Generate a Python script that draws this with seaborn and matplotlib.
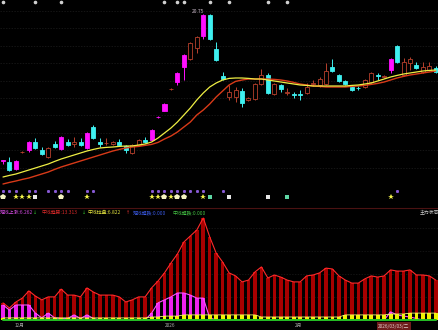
import numpy as np
import matplotlib
matplotlib.use("Agg")
import matplotlib.pyplot as plt
from matplotlib.lines import Line2D
import seaborn as sns

# ---------------- data ----------------
opens = [13.42, 13.35, 13.00, 13.83, 13.95, 14.35, 13.95, 13.60, 14.25, 14.00,
         14.35, 14.25, 14.35, 14.05, 15.10, 14.35, 14.28, 14.23, 14.35, 14.15,
         13.80, 14.20, 14.45, 14.45, 15.58, 15.90, 16.98, 17.35, 18.10, 18.50,
         19.05, 19.65, 20.72, 19.00, 17.65, 16.60, 16.60, 16.90, 16.45, 16.50,
         17.25, 17.70, 16.75, 17.20, 16.78, 16.75, 16.75, 16.80, 17.25, 17.20,
         17.25, 18.10, 17.70, 17.40, 17.10, 17.05, 17.10, 17.35, 17.68, 17.60,
         17.95, 19.15, 17.70, 18.30, 18.20, 17.85, 17.95, 18.05]
highs = [13.46, 13.60, 13.45, 13.88, 14.40, 14.55, 14.10, 14.10, 14.40, 14.65,
         14.50, 14.60, 14.55, 14.85, 15.20, 14.55, 14.55, 14.40, 14.50, 14.20,
         14.25, 14.50, 14.60, 15.00, 15.63, 16.28, 17.03, 17.85, 18.75, 19.35,
         19.65, 20.75, 20.75, 19.35, 17.85, 17.20, 17.10, 17.05, 16.60, 17.30,
         18.00, 17.80, 17.30, 17.25, 17.05, 16.85, 16.95, 17.30, 17.45, 17.60,
         18.30, 18.50, 17.75, 17.45, 17.15, 17.15, 17.50, 17.85, 17.80, 17.70,
         18.55, 19.20, 18.55, 18.60, 18.35, 18.35, 18.35, 18.15]
lows = [13.25, 12.90, 12.95, 13.82, 13.85, 14.00, 13.70, 13.55, 14.05, 13.95,
        14.15, 14.10, 14.15, 14.00, 14.50, 14.10, 14.20, 14.20, 14.15, 13.80,
        13.75, 14.15, 14.30, 14.40, 15.55, 15.88, 16.96, 17.20, 17.45, 18.45,
        18.80, 19.50, 19.45, 18.40, 17.45, 16.45, 16.35, 16.10, 16.40, 16.45,
        17.20, 16.75, 16.70, 16.85, 16.70, 16.55, 16.45, 16.75, 17.15, 17.10,
        17.20, 17.85, 17.35, 17.20, 16.90, 16.95, 17.05, 17.30, 17.45, 17.55,
        17.80, 18.30, 17.65, 17.95, 18.00, 17.80, 17.90, 17.80]
closes = [13.45, 12.95, 13.40, 13.86, 14.35, 14.05, 13.73, 14.05, 14.10, 14.60,
          14.20, 14.35, 14.20, 14.80, 14.55, 14.23, 14.30, 14.35, 14.20, 13.95,
          14.20, 14.45, 14.35, 14.95, 15.60, 16.25, 17.00, 17.80, 18.70, 19.30,
          19.60, 20.70, 19.50, 18.45, 17.48, 16.85, 16.95, 16.30, 16.55, 17.25,
          17.70, 16.80, 17.25, 17.00, 16.85, 16.68, 16.69, 17.10, 17.30, 17.50,
          17.90, 17.90, 17.40, 17.23, 16.95, 17.03, 17.45, 17.80, 17.63, 17.65,
          18.50, 18.35, 18.35, 18.50, 18.05, 18.10, 18.15, 17.85]
highlight_idx = [0, 2, 4, 9, 13, 23, 24, 25, 27, 28, 31, 60]

ma_short = [12.60, 12.68, 12.75, 12.85, 12.95, 13.05, 13.15, 13.25, 13.38, 13.50,
            13.60, 13.70, 13.80, 13.90, 13.98, 14.05, 14.08, 14.10, 14.13, 14.15,
            14.15, 14.20, 14.25, 14.35, 14.55, 14.80, 15.05, 15.35, 15.70, 16.05,
            16.45, 16.80, 17.10, 17.30, 17.45, 17.53, 17.55, 17.55, 17.53, 17.50,
            17.50, 17.45, 17.40, 17.35, 17.30, 17.25, 17.20, 17.18, 17.15, 17.15,
            17.15, 17.15, 17.15, 17.15, 17.18, 17.20, 17.25, 17.30, 17.40, 17.50,
            17.60, 17.68, 17.75, 17.80, 17.85, 17.90, 17.93, 17.95]
ma_long = [12.25, 12.33, 12.40, 12.48, 12.55, 12.65, 12.75, 12.85, 12.98, 13.10,
           13.20, 13.30, 13.40, 13.50, 13.60, 13.70, 13.80, 13.90, 13.98, 14.05,
           14.10, 14.13, 14.18, 14.23, 14.33, 14.50, 14.65, 14.85, 15.10, 15.35,
           15.70, 15.95, 16.25, 16.60, 16.90, 17.20, 17.38, 17.45, 17.50, 17.50,
           17.50, 17.50, 17.48, 17.45, 17.40, 17.33, 17.25, 17.20, 17.15, 17.13,
           17.10, 17.10, 17.10, 17.10, 17.13, 17.15, 17.18, 17.23, 17.28, 17.35,
           17.45, 17.55, 17.63, 17.70, 17.75, 17.80, 17.85, 17.90]

trend_mid = [5.7, 4.0, 6.0, 7.3, 9.7, 8.0, 6.7, 7.7, 7.7, 10.3,
             8.3, 8.3, 7.7, 10.7, 9.3, 8.3, 8.3, 8.3, 7.7, 6.0,
             6.7, 7.7, 7.7, 10.7, 13.0, 15.7, 19.0, 22.0, 26.0, 28.0,
             30.0, 34.0, 27.7, 22.3, 19.3, 15.7, 14.7, 12.7, 13.3, 16.0,
             17.7, 14.0, 15.0, 14.3, 13.3, 12.7, 12.7, 14.7, 15.0, 15.7,
             17.3, 17.0, 14.7, 13.3, 12.3, 12.3, 13.7, 14.7, 14.3, 14.7,
             16.7, 16.3, 16.3, 16.7, 15.0, 15.0, 14.7, 13.3]
rise_short = [5.0, 3.3, 5.0, 5.0, 5.0, 2.3, 0.7, 2.3, 0.7, 0.5,
              0.5, 1.7, 0.5, 1.7, 0.5, 0.0, 0.0, 0.0, 0.0, 0.0,
              0.0, 0.0, 0.0, 2.3, 5.7, 6.7, 7.7, 9.0, 9.0, 8.3,
              7.3, 7.3, 0.7, 0.0, 0.0, 0.0, 0.0, 0.0, 0.0, 0.0,
              0.0, 0.0, 0.0, 0.0, 0.0, 0.0, 0.0, 0.0, 0.0, 0.0,
              0.0, 0.0, 0.0, 0.0, 0.0, 0.0, 0.0, 0.0, 0.0, 0.0,
              2.7, 1.7, 1.3, 1.0, 0.5, 0.0, 0.0, 0.0]
pull_mid = [0.7, 0.7, 0.7, 0.7, 0.7, 0.7, 0.7, 0.7, 0.7, 0.7,
            0.7, 0.7, 0.7, 0.7, 0.7, 0.7, 0.7, 0.7, 0.7, 0.7,
            0.7, 0.7, 0.7, 1.0, 1.0, 1.3, 1.3, 1.3, 1.7, 1.7,
            1.7, 1.7, 1.7, 1.7, 1.7, 1.7, 1.7, 1.7, 1.7, 1.7,
            1.0, 1.0, 1.0, 1.0, 1.0, 1.0, 1.0, 1.0, 1.0, 1.0,
            1.0, 1.0, 1.0, 1.7, 1.7, 1.7, 1.7, 1.7, 1.7, 1.7,
            2.0, 2.0, 2.0, 2.3, 2.3, 2.3, 2.3, 2.3]
oversold_mid = [0.0] * 68

top_dot_idx = [0, 5, 9, 25, 27, 28, 32, 35, 41, 44]
lantern_idx = [0, 9, 25, 27, 28]
white_sq_idx = [5, 35, 41]
green_sq_idx = [32, 44]
star_idx = [2, 3, 4, 13, 23, 24, 26, 31, 60]
purple_idx = [0, 1, 2, 4, 5, 7, 8, 9, 10, 13, 14, 23, 24, 25, 26, 27, 28,
              29, 30, 31, 34, 61]

legend_names = ["短线上涨", "中线趋势", "中线拉盘", "短线超跌", "中线超跌"]
legend_values = [6.262, 13.313, 6.822, 0.000, 0.000]
month_labels = ["12月", "2026", "2月"]
month_pos = [2.6, 25.9, 45.8]
cursor_idx = 60.5
cursor_label = "2026/03/03/二"

# ---------------- style ----------------
sns.set_theme(style="dark", rc={"axes.facecolor": "black",
                                "figure.facecolor": "black",
                                "savefig.facecolor": "black",
                                "patch.edgecolor": "none"})
plt.rcParams["font.family"] = ["Noto Sans CJK SC", "DejaVu Sans"]
plt.rcParams["axes.unicode_minus"] = False

W, H = 439, 330
fig = plt.figure(figsize=(W / 100, H / 100), dpi=100)


def fy(py):
    return 1 - py / H


n = len(closes)
x = np.arange(n)
o = np.array(opens); c = np.array(closes)
hi = np.array(highs); lo = np.array(lows)
xmin = -3 / 6.46
xmax = xmin + W / 6.46

MAG = "#ff10ff"
CYAN = "#3ff0f0"
RED = "#b8402c"

# ---- main price panel ----
ax = fig.add_axes([0, fy(185), 1, 185 / H])
ax.set_facecolor("black")
for g in np.arange(20.90, 12.5, -0.87):
    ax.axhline(g, color="#1e1e1e", lw=0.5, ls=(0, (2, 2)), zorder=0)

face, edge = [], []
for i in range(n):
    if i in highlight_idx:
        face.append(MAG); edge.append(MAG)
    elif c[i] >= o[i]:
        face.append("black"); edge.append(RED)
    else:
        face.append(CYAN); edge.append(CYAN)
ax.vlines(x, lo, hi, colors=edge, lw=0.7, zorder=2)
body_bot = np.minimum(o, c)
body_h = np.maximum(np.abs(c - o), 0.012)
ax.bar(x, body_h, bottom=body_bot, width=0.62, color=face, edgecolor=edge,
       linewidth=0.6, zorder=3)

sns.lineplot(x=x, y=ma_long, ax=ax, color="#d83a18", lw=1.0, zorder=4)
sns.lineplot(x=x, y=ma_short, ax=ax, color="#eeee44", lw=0.9, zorder=5)

top = int(np.argmax(hi))
ax.annotate(f"{hi[top]:.2f}", xy=(top, hi[top]), xytext=(-4, 0.2),
            textcoords="offset points", ha="center", va="bottom",
            fontsize=3.6, color="#c8b8c8", zorder=6)
ax.plot(np.array(top_dot_idx), [1 - 2 / 185] * len(top_dot_idx), "o", ms=1.6,
        color="#cfcfcf", transform=ax.get_xaxis_transform(), clip_on=False)
ax.set_xlim(xmin, xmax)
ax.set_ylim(21.45 - 185 / 20, 21.45)
ax.axis("off")

# ---- signal row ----
axs = fig.add_axes([0, fy(205), 1, 20 / H])
axs.set_facecolor("black")
axs.plot(purple_idx, [191] * len(purple_idx), "s", ms=1.1, color="#8a5ad8")
axs.plot(star_idx, [197] * len(star_idx), "*", ms=4.2, color="#f2f24a", mew=0)
axs.plot(lantern_idx, [197] * len(lantern_idx), "p", ms=4.2, color="#f4f4c0", mew=0)
axs.plot(white_sq_idx, [197] * len(white_sq_idx), "s", ms=3.4, color="#e6e6e6", mew=0)
axs.plot(green_sq_idx, [197] * len(green_sq_idx), "s", ms=3.4, color="#5ed6a4", mew=0)
axs.set_xlim(xmin, xmax)
axs.set_ylim(205, 185)
axs.axis("off")

fig.add_artist(Line2D([0, 1], [fy(207.5)] * 2, transform=fig.transFigure,
                      color="#4a1212", lw=0.8))

# ---- lower indicator panel ----
ax2 = fig.add_axes([0, fy(322), 1, (322 - 216) / H])
ax2.set_facecolor("black")
for g in [30.7, 23.0, 15.3, 7.7]:
    ax2.axhline(g, color="#1a1a1a", lw=0.5, ls=(0, (2, 2)), zorder=0)
ax2.bar(x, trend_mid, width=0.55, color="#a80000", linewidth=0, zorder=2)
sns.lineplot(x=x, y=trend_mid, ax=ax2, color="#ff2a2a", lw=0.8, zorder=3)
ax2.bar(x, rise_short, width=0.55, color="#ee22ee", linewidth=0, zorder=4)
sns.lineplot(x=x, y=rise_short, ax=ax2, color="#ff50ff", lw=0.8, zorder=5)
ax2.bar(x, pull_mid, width=0.6, color="#f2f200", linewidth=0, zorder=6)
sns.lineplot(x=x, y=pull_mid, ax=ax2, color="#f6f66a", lw=0.6, zorder=7)
sns.lineplot(x=x, y=oversold_mid, ax=ax2, color="#22c022", lw=1.4, zorder=8)
ax2.set_xlim(xmin, xmax)
ax2.set_ylim(-(322 - 320) / 3, (320 - 216) / 3)
for s in ax2.spines.values():
    s.set_visible(False)
ax2.set_yticks([])
ax2.set_xticks(month_pos)
ax2.set_xticklabels(month_labels)
ax2.tick_params(axis="x", length=0, pad=0.6, labelsize=3.4, colors="#a8a8a8")
ax2.set_xlabel(""); ax2.set_ylabel("")
ax2.annotate(cursor_label, xy=(cursor_idx, 0), xycoords=("data", "axes fraction"),
             xytext=(0, -1.2), textcoords="offset points", ha="center", va="top",
             fontsize=3.4, color="#e0c8c8",
             bbox=dict(boxstyle="square,pad=0.25", fc="#6e1c1c", ec="none"))

# ---- legend texts ----
leg_colors = ["#d24ae0", "#e02a2a", "#e8e840", "#3a5ae6", "#44c444"]
leg_x = [0, 42, 88, 133, 173]
for name, val, col, px in zip(legend_names, legend_values, leg_colors, leg_x):
    fig.text(px / W, fy(212.5), f"{name}:{val:.3f}", color=col, fontsize=3.5,
             ha="left", va="center")
for ch, col, px in [("↓", "#30c030", 33), ("↓", "#30c030", 82), ("↑", "#e03030", 126)]:
    fig.text(px / W, fy(212.5), ch, color=col, fontsize=3.5, ha="left",
             va="center", family=["DejaVu Sans"])
fig.text(420 / W, fy(212.5), "主力状态", color="#cfcfcf", fontsize=3.5,
         ha="left", va="center")

for a in (ax, axs):
    a.set_xlabel(""); a.set_ylabel("")

fig.savefig("out.png", dpi=100, facecolor="black")
